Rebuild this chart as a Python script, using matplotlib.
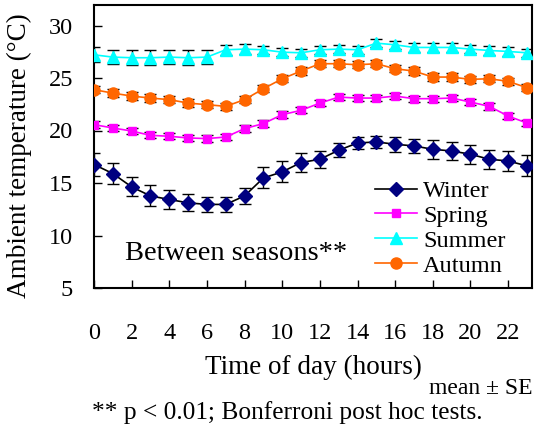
import numpy as np
import matplotlib
matplotlib.use('Agg')
import matplotlib.pyplot as plt

plt.rcParams['font.family'] = ['Liberation Serif', 'DejaVu Serif']

# Hourly ambient temperature (mean and SE) per season
hours = list(range(24))
winter = [16.76, 15.90, 14.63, 13.77, 13.43, 13.11, 12.96, 12.96, 13.77, 15.48, 16.06, 16.95,
          17.26, 18.12, 18.81, 18.91, 18.69, 18.53, 18.21, 18.05, 17.74, 17.26, 17.10, 16.63]
winter_se = [1.1, 1.0, 0.9, 1.0, 0.9, 0.8, 0.75, 0.75, 0.8, 1.0, 1.0, 0.9,
             0.8, 0.65, 0.6, 0.6, 0.7, 0.7, 0.9, 0.9, 0.9, 0.9, 0.95, 1.0]
spring = [20.56, 20.24, 19.95, 19.54, 19.45, 19.29, 19.23, 19.38, 20.18, 20.66, 21.51, 21.92,
          22.61, 23.18, 23.09, 23.09, 23.28, 23.03, 23.03, 23.09, 22.71, 22.30, 21.38, 20.71]
spring_se = [0.3, 0.3, 0.3, 0.3, 0.3, 0.3, 0.3, 0.3, 0.3, 0.3, 0.3, 0.3,
             0.3, 0.3, 0.3, 0.3, 0.3, 0.3, 0.3, 0.3, 0.3, 0.3, 0.3, 0.3]
summer = [27.21, 26.99, 26.93, 26.93, 26.99, 26.93, 26.99, 27.69, 27.75, 27.69, 27.46, 27.40,
          27.69, 27.75, 27.69, 28.32, 28.16, 27.91, 27.91, 27.91, 27.75, 27.62, 27.53, 27.40]
summer_se = [0.7, 0.7, 0.7, 0.7, 0.7, 0.7, 0.7, 0.5, 0.5, 0.4, 0.4, 0.4,
             0.4, 0.4, 0.4, 0.4, 0.4, 0.4, 0.4, 0.4, 0.4, 0.4, 0.4, 0.4]
autumn = [23.89, 23.56, 23.28, 23.09, 22.94, 22.61, 22.46, 22.30, 22.94, 23.98, 24.93, 25.66,
          26.36, 26.36, 26.26, 26.36, 25.88, 25.66, 25.09, 25.09, 24.87, 24.93, 24.68, 24.08]
autumn_se = [0.35, 0.35, 0.35, 0.35, 0.35, 0.35, 0.35, 0.35, 0.35, 0.35, 0.35, 0.35,
             0.35, 0.35, 0.35, 0.35, 0.35, 0.35, 0.35, 0.35, 0.35, 0.35, 0.35, 0.35]

xticks = list(range(0, 24, 2))
yticks = [5, 10, 15, 20, 25, 30]


def plot_chart():
    fig = plt.figure(figsize=(5.34, 4.3), dpi=100)
    fig.subplots_adjust(left=94 / 534, right=532 / 534, bottom=1 - 288 / 430, top=1 - 4.5 / 430)
    ax = fig.add_subplot(111)

    series = [
        ('Winter', winter, winter_se, 'D', '#000080', 'black', 7),
        ('Spring', spring, spring_se, 's', '#ff00ff', '#ff00ff', 5.5),
        ('Summer', summer, summer_se, '^', '#00ffff', '#00ffff', 9),
        ('Autumn', autumn, autumn_se, 'o', '#ff6600', '#ff6600', 8),
    ]
    handles = []
    for name, vals, se, mk, mcol, lcol, ms in series:
        ax.errorbar(hours, vals, yerr=se, fmt='none', ecolor='black',
                    elinewidth=1, capsize=4.5, capthick=1, zorder=2)
        h, = ax.plot(hours, vals, color=lcol, lw=1.2, marker=mk, ms=ms,
                     markerfacecolor=mcol, markeredgecolor=mcol, label=name, zorder=3)
        handles.append(h)

    ax.set_xlim(0, 23.27)
    ax.set_ylim(5, 32)
    ax.set_xticks(xticks)
    ax.set_yticks(yticks)
    ax.tick_params(direction='in', length=6, width=1, labelsize=17.5)
    ax.tick_params(axis='x', pad=25)
    ax.tick_params(axis='y', pad=15)
    for s in ax.spines.values():
        s.set_linewidth(1.5)

    ax.set_xlabel('Time of day (hours)', fontsize=19.5, labelpad=8)
    ax.set_ylabel('Ambient temperature (\u00b0C)', fontsize=19.5)
    ax.yaxis.set_label_coords(-0.142, 0.466)

    ax.text(0.07, 0.12, 'Between seasons**', transform=ax.transAxes, fontsize=20.5,
            va='center', ha='left')
    fig.legend(handles=handles, loc='upper left', bbox_to_anchor=(375 / 534, 1 - 180 / 430),
               frameon=False, fontsize=17.5, handlelength=1.73, handletextpad=0.25,
               labelspacing=0.12, borderpad=0, borderaxespad=0)

    fig.text(481 / 534, 1 - 389 / 430, 'mean \u00b1 SE', fontsize=17, ha='center', va='center')
    fig.text(92 / 534, 1 - 413 / 430, '** p < 0.01; Bonferroni post hoc tests.', fontsize=18.3,
             ha='left', va='center')

    fig.savefig('out.png', dpi=100)


if __name__ == '__main__':
    plot_chart()
